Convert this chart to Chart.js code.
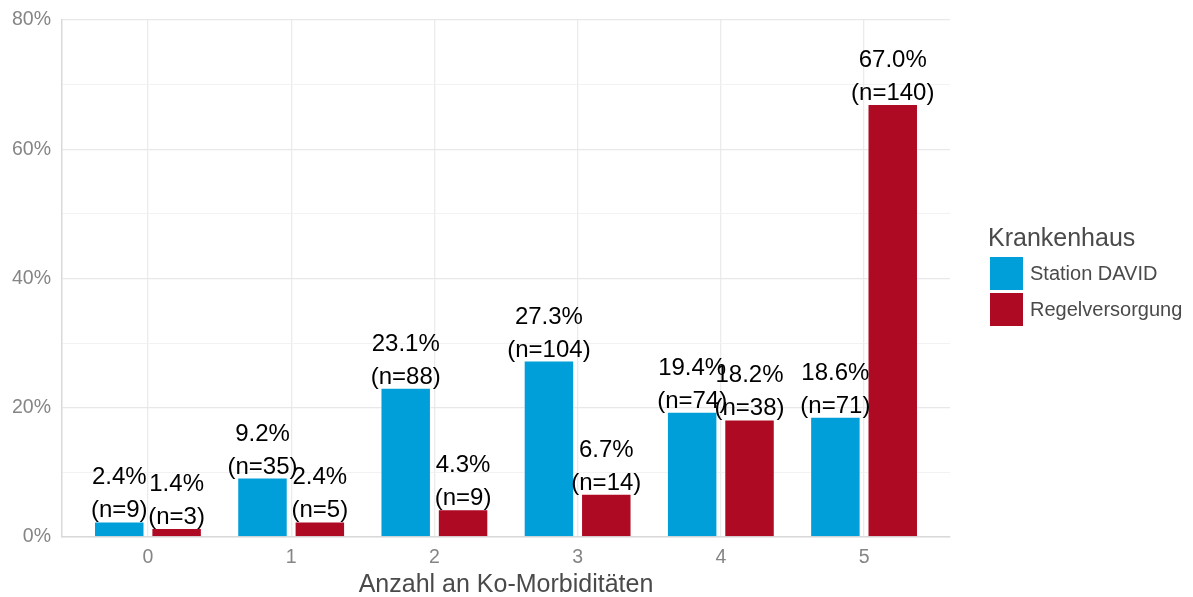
<!DOCTYPE html>
<html>
<head>
<meta charset="utf-8">
<script src="https://cdn.jsdelivr.net/npm/chart.js@4/dist/chart.umd.min.js"></script>
<style>
  html, body { margin: 0; padding: 0; background: #ffffff; }
  #wrap { width: 1193px; height: 597px; position: relative; }
</style>
</head>
<body>
<div id="wrap"><canvas id="c" width="1193" height="597"></canvas></div>
<script>
const categories = ["0", "1", "2", "3", "4", "5"];
const seriesNames = ["Station DAVID", "Regelversorgung"];
const davidPct = [2.4, 9.2, 23.1, 27.3, 19.4, 18.6];
const davidN = [9, 35, 88, 104, 74, 71];
const regelPct = [1.4, 2.4, 4.3, 6.7, 18.2, 67.0];
const regelN = [3, 5, 9, 14, 38, 140];
const yTicks = [0, 20, 40, 60, 80];
const legendTitle = "Krankenhaus";
const xTitle = "Anzahl an Ko-Morbiditäten";

const FONT = "'Liberation Sans', Arial, Helvetica, sans-serif";
const BLUE = "#009FDA";
const RED = "#AE0A23";
const nArrays = [davidN, regelN];

const labelPlugin = {
  id: 'barLabels',
  afterDatasetsDraw(chart) {
    const ctx = chart.ctx;
    ctx.save();
    ctx.font = "24px " + FONT;
    ctx.fillStyle = "#000000";
    ctx.textAlign = "center";
    ctx.textBaseline = "alphabetic";
    chart.data.datasets.forEach((ds, di) => {
      const meta = chart.getDatasetMeta(di);
      meta.data.forEach((bar, i) => {
        const v = ds.data[i].y;
        ctx.fillText(v.toFixed(1) + "%", bar.x, bar.y - 37);
        ctx.fillText("(n=" + nArrays[di][i] + ")", bar.x, bar.y - 4);
      });
    });
    ctx.restore();
  }
};

const legendPlugin = {
  id: 'customLegend',
  afterDraw(chart) {
    const ctx = chart.ctx;
    ctx.save();
    ctx.textAlign = "left";
    ctx.textBaseline = "alphabetic";
    ctx.font = "25px " + FONT;
    ctx.fillStyle = "#4a4a4a";
    ctx.fillText(legendTitle, 988, 246);
    ctx.font = "20px " + FONT;
    chart.data.datasets.forEach((ds, i) => {
      const y = 257 + i * 36;
      ctx.fillStyle = ds.backgroundColor;
      ctx.fillRect(990, y, 33, 33);
      ctx.fillStyle = "#4a4a4a";
      ctx.textBaseline = "middle";
      ctx.fillText(ds.label, 1030, y + 17);
    });
    ctx.restore();
  }
};

const toPts = arr => arr.map((v, i) => ({ x: i, y: v }));

new Chart(document.getElementById('c'), {
  type: 'bar',
  data: {
    datasets: [
      { label: seriesNames[0], data: toPts(davidPct), backgroundColor: BLUE, borderColor: "rgba(255,255,255,0.5)", borderWidth: 1 },
      { label: seriesNames[1], data: toPts(regelPct), backgroundColor: RED, borderColor: "rgba(255,255,255,0.5)", borderWidth: 1 }
    ]
  },
  options: {
    responsive: false,
    animation: false,
    devicePixelRatio: 1,
    layout: { padding: { top: 20, right: 243, left: 0, bottom: 0 } },
    plugins: { legend: { display: false }, tooltip: { enabled: false } },
    datasets: { bar: { categoryPercentage: 0.801, barPercentage: 0.88, grouped: true } },
    scales: {
      x: {
        type: 'linear',
        min: -0.6,
        max: 5.6,
        offset: false,
        afterBuildTicks: s => { s.ticks = categories.map((c, i) => ({ value: i })); },
        afterFit: s => { s.height = 60; s.paddingLeft = 0; s.paddingRight = 0; },
        ticks: {
          callback: (v) => categories[v] !== undefined ? categories[v] : '',
          color: "#858585",
          font: { family: FONT, size: 19.5 },
          padding: 9,
          maxRotation: 0,
          autoSkip: false
        },
        grid: { color: "#ebebeb", lineWidth: 1.3, drawTicks: false, offset: false },
        border: { color: "#d9d9d9", width: 1.5 },
        title: {
          display: true,
          text: xTitle,
          color: "#4a4a4a",
          font: { family: FONT, size: 25 },
          padding: { top: 0, bottom: -3 }
        }
      },
      y: {
        min: 0,
        max: 80,
        afterFit: s => { s.width = 62; s.paddingTop = 0; s.paddingBottom = 0; },
        ticks: {
          stepSize: 10,
          callback: (v) => yTicks.includes(v) ? v + "%" : '',
          color: "#858585",
          font: { family: FONT, size: 19.5 },
          padding: 11,
          autoSkip: false
        },
        grid: {
          color: (c) => (c.tick && yTicks.includes(c.tick.value)) ? "#e8e8e8" : "#f1f1f1",
          lineWidth: (c) => (c.tick && yTicks.includes(c.tick.value)) ? 1.3 : 0.9,
          drawTicks: false
        },
        border: { color: "#d9d9d9", width: 1.5 }
      }
    }
  },
  plugins: [labelPlugin, legendPlugin]
});
</script>
</body>
</html>
